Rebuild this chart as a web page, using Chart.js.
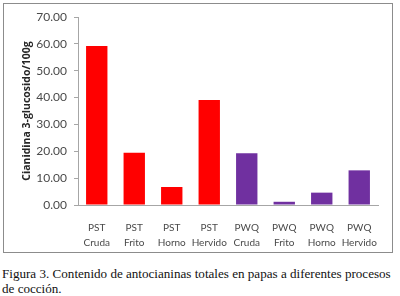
<!DOCTYPE html>
<html>
<head>
<meta charset="utf-8">
<script src="https://cdn.jsdelivr.net/npm/chart.js@4.4.0/dist/chart.umd.min.js"></script>
<style>
  html, body { margin: 0; padding: 0; background: #fff; width: 400px; height: 296px; overflow: hidden; }
  #frame { position: absolute; left: 3px; top: 3px; width: 388px; height: 248px; border: 1px solid #8c8c8c; }
  #chart { position: absolute; left: 0; top: 0; }
  #caption { position: absolute; left: 2px; top: 266px; font-family: "Liberation Serif", "Times New Roman", serif;
             font-size: 13.1px; line-height: 15px; color: #111; white-space: nowrap; }
</style>
</head>
<body>
<div id="frame"></div>
<canvas id="chart" width="400" height="255"></canvas>
<div id="caption">Figura 3. Contenido de antocianinas totales en papas a diferentes procesos<br>de cocción.</div>
<script>
// categories (two-line labels)
const categories = [
    ['PST', 'Cruda'], ['PST', 'Frito'], ['PST', 'Horno'], ['PST', 'Hervido'],
    ['PWQ', 'Cruda'], ['PWQ', 'Frito'], ['PWQ', 'Horno'], ['PWQ', 'Hervido']
];
// cianidina 3-glucosido / 100g
const values = [59.2, 19.5, 6.7, 39.1, 19.3, 1.2, 4.6, 12.9];
const barColors = ['#ff0000', '#ff0000', '#ff0000', '#ff0000', '#7030a0', '#7030a0', '#7030a0', '#7030a0'];
const yTicks = [0, 10, 20, 30, 40, 50, 60, 70];

const ctx = document.getElementById('chart');
new Chart(ctx, {
    type: 'bar',
    data: {
        labels: categories,
        datasets: [{
            data: values,
            backgroundColor: barColors,
            borderWidth: 0,
            barPercentage: 0.57,
            categoryPercentage: 1
        }]
    },
    options: {
        responsive: false,
        animation: false,
        layout: { padding: { top: 17, right: 22, left: 0, bottom: 0 } },
        plugins: { legend: { display: false }, tooltip: { enabled: false } },
        scales: {
            x: {
                grid: { display: false },
                border: { color: '#a6a6a6', width: 1 },
                ticks: {
                    color: '#4a4a4a',
                    font: { family: 'Lato', size: 10, lineHeight: 1.5 },
                    padding: 7,
                    maxRotation: 0,
                    autoSkip: false
                },
                afterFit: function (scale) { scale.height = 50; }
            },
            y: {
                min: yTicks[0],
                max: yTicks[yTicks.length - 1],
                grid: { drawOnChartArea: false, drawTicks: true, tickLength: 4, color: '#a6a6a6' },
                border: { color: '#a6a6a6', width: 1 },
                ticks: {
                    stepSize: 10,
                    color: '#4a4a4a',
                    font: { family: 'Lato', size: 12 },
                    padding: 7,
                    callback: function (v) { return v.toFixed(2); }
                },
                title: {
                    display: true,
                    text: 'Cianidina 3-glucosido/100g',
                    color: '#262626',
                    font: { family: 'Open Sans', size: 10.5, weight: 'bold' },
                    padding: { top: 21, bottom: 0 }
                },
                afterFit: function (scale) { scale.width = 78; }
            }
        }
    }
});
</script>
</body>
</html>
